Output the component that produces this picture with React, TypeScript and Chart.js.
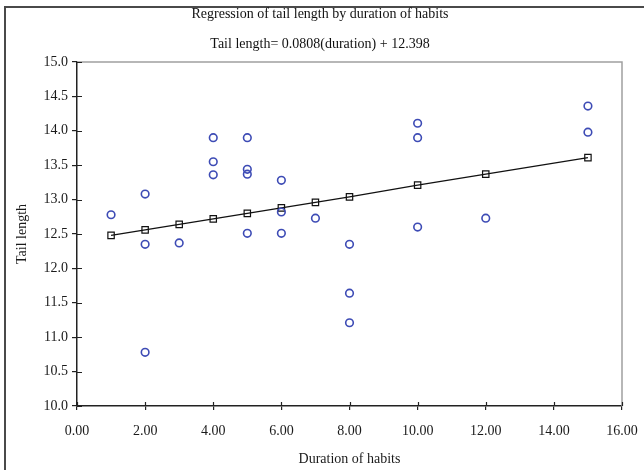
import { useEffect, useRef } from 'react';
import { Chart, registerables } from 'chart.js';
Chart.register(...registerables);

const chartTitle = 'Regression of tail length by duration of habits';
const chartSubtitle = 'Tail length= 0.0808(duration) + 12.398';
const xAxisTitle = 'Duration of habits';
const yAxisTitle = 'Tail length';

const durations = [1, 2, 2, 2, 3, 4, 4, 4, 5, 5, 5, 5, 6, 6, 6, 7, 8, 8, 8, 10, 10, 10, 12, 15, 15];
const tailLengths = [12.78, 13.08, 12.35, 10.78, 12.37, 13.9, 13.55, 13.36, 13.9, 13.44, 13.37, 12.51, 13.28, 12.82, 12.51, 12.73, 12.35, 11.64, 11.21, 14.11, 13.9, 12.6, 12.73, 14.36, 13.98];
const fitDurations = [1, 2, 3, 4, 5, 6, 7, 8, 10, 12, 15];
const fitTailLengths = [12.48, 12.56, 12.64, 12.72, 12.8, 12.88, 12.96, 13.04, 13.21, 13.37, 13.61];

const FONT = '"Liberation Serif", "Times New Roman", serif';

const decorPlugin = {
  id: 'decor',
  beforeDraw(chart: any) {
    const ctx = chart.ctx;
    ctx.save();
    ctx.fillStyle = '#ffffff';
    ctx.fillRect(0, 0, chart.width, chart.height);
    ctx.restore();
  },
  afterDraw(chart: any) {
    const ctx = chart.ctx;
    const { left, right, top, bottom } = chart.chartArea;
    const xs = chart.scales.x;
    const ys = chart.scales.y;
    ctx.save();
    // outer frame (top & left)
    ctx.strokeStyle = '#4a4a4a';
    ctx.lineWidth = 2;
    ctx.beginPath();
    ctx.moveTo(5, chart.height);
    ctx.lineTo(5, 7);
    ctx.lineTo(chart.width, 7);
    ctx.stroke();
    // plot area top/right border
    ctx.strokeStyle = '#a0a0a0';
    ctx.lineWidth = 1.5;
    ctx.beginPath();
    ctx.moveTo(left, top);
    ctx.lineTo(right, top);
    ctx.lineTo(right, bottom);
    ctx.stroke();
    // inner halves of tick marks
    ctx.strokeStyle = '#222222';
    ctx.lineWidth = 1.2;
    ctx.beginPath();
    xs.ticks.forEach((t: any) => {
      const px = Math.round(xs.getPixelForValue(t.value)) + 0.5;
      ctx.moveTo(px, bottom);
      ctx.lineTo(px, bottom - 4);
    });
    ys.ticks.forEach((t: any) => {
      const py = Math.round(ys.getPixelForValue(t.value)) + 0.5;
      ctx.moveTo(left, py);
      ctx.lineTo(left + 5, py);
    });
    ctx.stroke();
    // titles
    ctx.fillStyle = '#111111';
    ctx.textAlign = 'center';
    ctx.textBaseline = 'middle';
    ctx.font = '14px ' + FONT;
    ctx.fillText(chartTitle, 320, 14);
    ctx.fillText(chartSubtitle, 320, 44);
    ctx.restore();
  },
};

export default function App() {
  const ref = useRef<HTMLCanvasElement | null>(null);
  useEffect(() => {
    if (!ref.current) return;
    const chart = new Chart(ref.current, {
      type: 'scatter',
      data: {
        datasets: [
          {
            label: 'Fit',
            data: fitDurations.map((d, i) => ({ x: d, y: fitTailLengths[i] })),
            showLine: true,
            borderColor: '#111111',
            borderWidth: 1.2,
            pointStyle: 'rect',
            pointRadius: 4.5,
            pointBorderWidth: 1.2,
            pointBorderColor: '#111111',
            pointBackgroundColor: 'rgba(255,255,255,0)',
            order: 2,
          },
          {
            label: 'Observed',
            data: durations.map((d, i) => ({ x: d, y: tailLengths[i] })),
            showLine: false,
            pointStyle: 'circle',
            pointRadius: 3.8,
            pointBorderWidth: 1.6,
            pointBorderColor: '#3d4bb5',
            pointBackgroundColor: 'rgba(255,255,255,0)',
            order: 1,
          },
        ],
      },
      options: {
        animation: false,
        responsive: false,
        devicePixelRatio: 1,
        layout: { padding: { left: 0, right: 22, top: 62, bottom: 0 } },
        plugins: {
          legend: { display: false },
          tooltip: { enabled: false },
          title: { display: false },
        },
        scales: {
          x: {
            type: 'linear',
            min: 0,
            max: 16,
            afterFit: (s: any) => { s.height = 64; s.paddingRight = 0; s.paddingLeft = 0; },
            ticks: {
              stepSize: 2,
              color: '#1a1a1a',
              font: { family: FONT, size: 14 },
              padding: 13,
              maxRotation: 0,
              callback: (v: any) => Number(v).toFixed(2),
            },
            grid: { display: true, drawOnChartArea: false, drawTicks: true, tickLength: 4, color: '#222222', lineWidth: 1.2 },
            border: { display: true, color: '#222222', width: 1.5 },
            title: { display: true, text: xAxisTitle, color: '#1a1a1a', font: { family: FONT, size: 14 }, padding: { top: 0, bottom: 2 } },
          },
          y: {
            type: 'linear',
            min: 10,
            max: 15,
            afterFit: (s: any) => { s.width = 77; s.paddingTop = 0; s.paddingBottom = 0; },
            ticks: {
              stepSize: 0.5,
              color: '#1a1a1a',
              font: { family: FONT, size: 14 },
              padding: 4,
              callback: (v: any) => Number(v).toFixed(1),
            },
            grid: { display: true, drawOnChartArea: false, drawTicks: true, tickLength: 5, color: '#222222', lineWidth: 1.2 },
            border: { display: true, color: '#222222', width: 1.5 },
            title: { display: true, text: yAxisTitle, color: '#1a1a1a', font: { family: FONT, size: 14 }, padding: { top: 14, bottom: 0 } },
          },
        },
      },
      plugins: [decorPlugin],
    });
    return () => chart.destroy();
  }, []);
  return (
    <div style={{ position: 'fixed', left: 0, top: 0, width: 644, height: 470, background: '#fff' }}>
      <canvas ref={ref} width={644} height={470} style={{ display: 'block' }} />
    </div>
  );
}
